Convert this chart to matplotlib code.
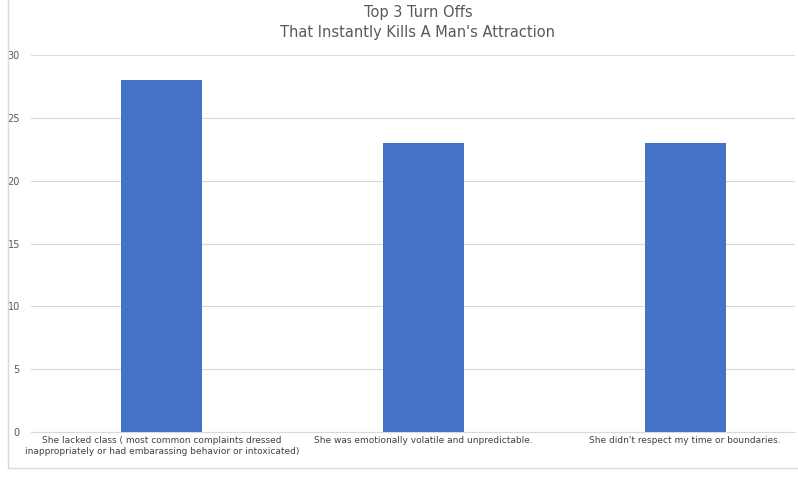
import matplotlib
matplotlib.use("Agg")
import matplotlib.pyplot as plt

categories = [
    "She lacked class ( most common complaints dressed\ninappropriately or had embarassing behavior or intoxicated)",
    "She was emotionally volatile and unpredictable.",
    "She didn't respect my time or boundaries.",
]
values = [28, 23, 23]
yticks = [0, 5, 10, 15, 20, 25, 30]

W, H = 798, 480
fig = plt.figure(figsize=(W / 100, H / 100), dpi=100)
fig.patch.set_facecolor("white")

# chart border like the spreadsheet frame
fig.patches.append(plt.Rectangle((8 / W, 1 - 468 / H), 800 / W, 470 / H,
                                 transform=fig.transFigure, fill=False,
                                 edgecolor="#d9d9d9", linewidth=1))

ax = fig.add_axes([31 / W, 1 - 432 / H, (795 - 31) / W, (432 - 55) / H])
x = range(len(categories))
ax.bar(x, values, width=0.31, color="#4472c4", zorder=3)
ax.set_xlim(-0.5, 2.42)
ax.set_ylim(0, 30)
ax.set_yticks(yticks)
ax.set_xticks(list(x))
ax.set_xticklabels(categories, fontsize=6.5, color="#404040")
ax.tick_params(axis="y", labelsize=7, colors="#595959", length=0, pad=8)
ax.tick_params(axis="x", length=0, pad=3)
ax.grid(axis="y", color="#d9d9d9", linewidth=0.8, zorder=0)
for s in ["top", "right", "left"]:
    ax.spines[s].set_visible(False)
ax.spines["bottom"].set_color("#d9d9d9")

fig.text(418 / W, 1 - 12 / H, "Top 3 Turn Offs", ha="center", va="center",
         fontsize=10.5, color="#595959")
fig.text(418 / W, 1 - 32 / H, "That Instantly Kills A Man's Attraction",
         ha="center", va="center", fontsize=10.5, color="#595959")

fig.savefig("out.png", dpi=100)
